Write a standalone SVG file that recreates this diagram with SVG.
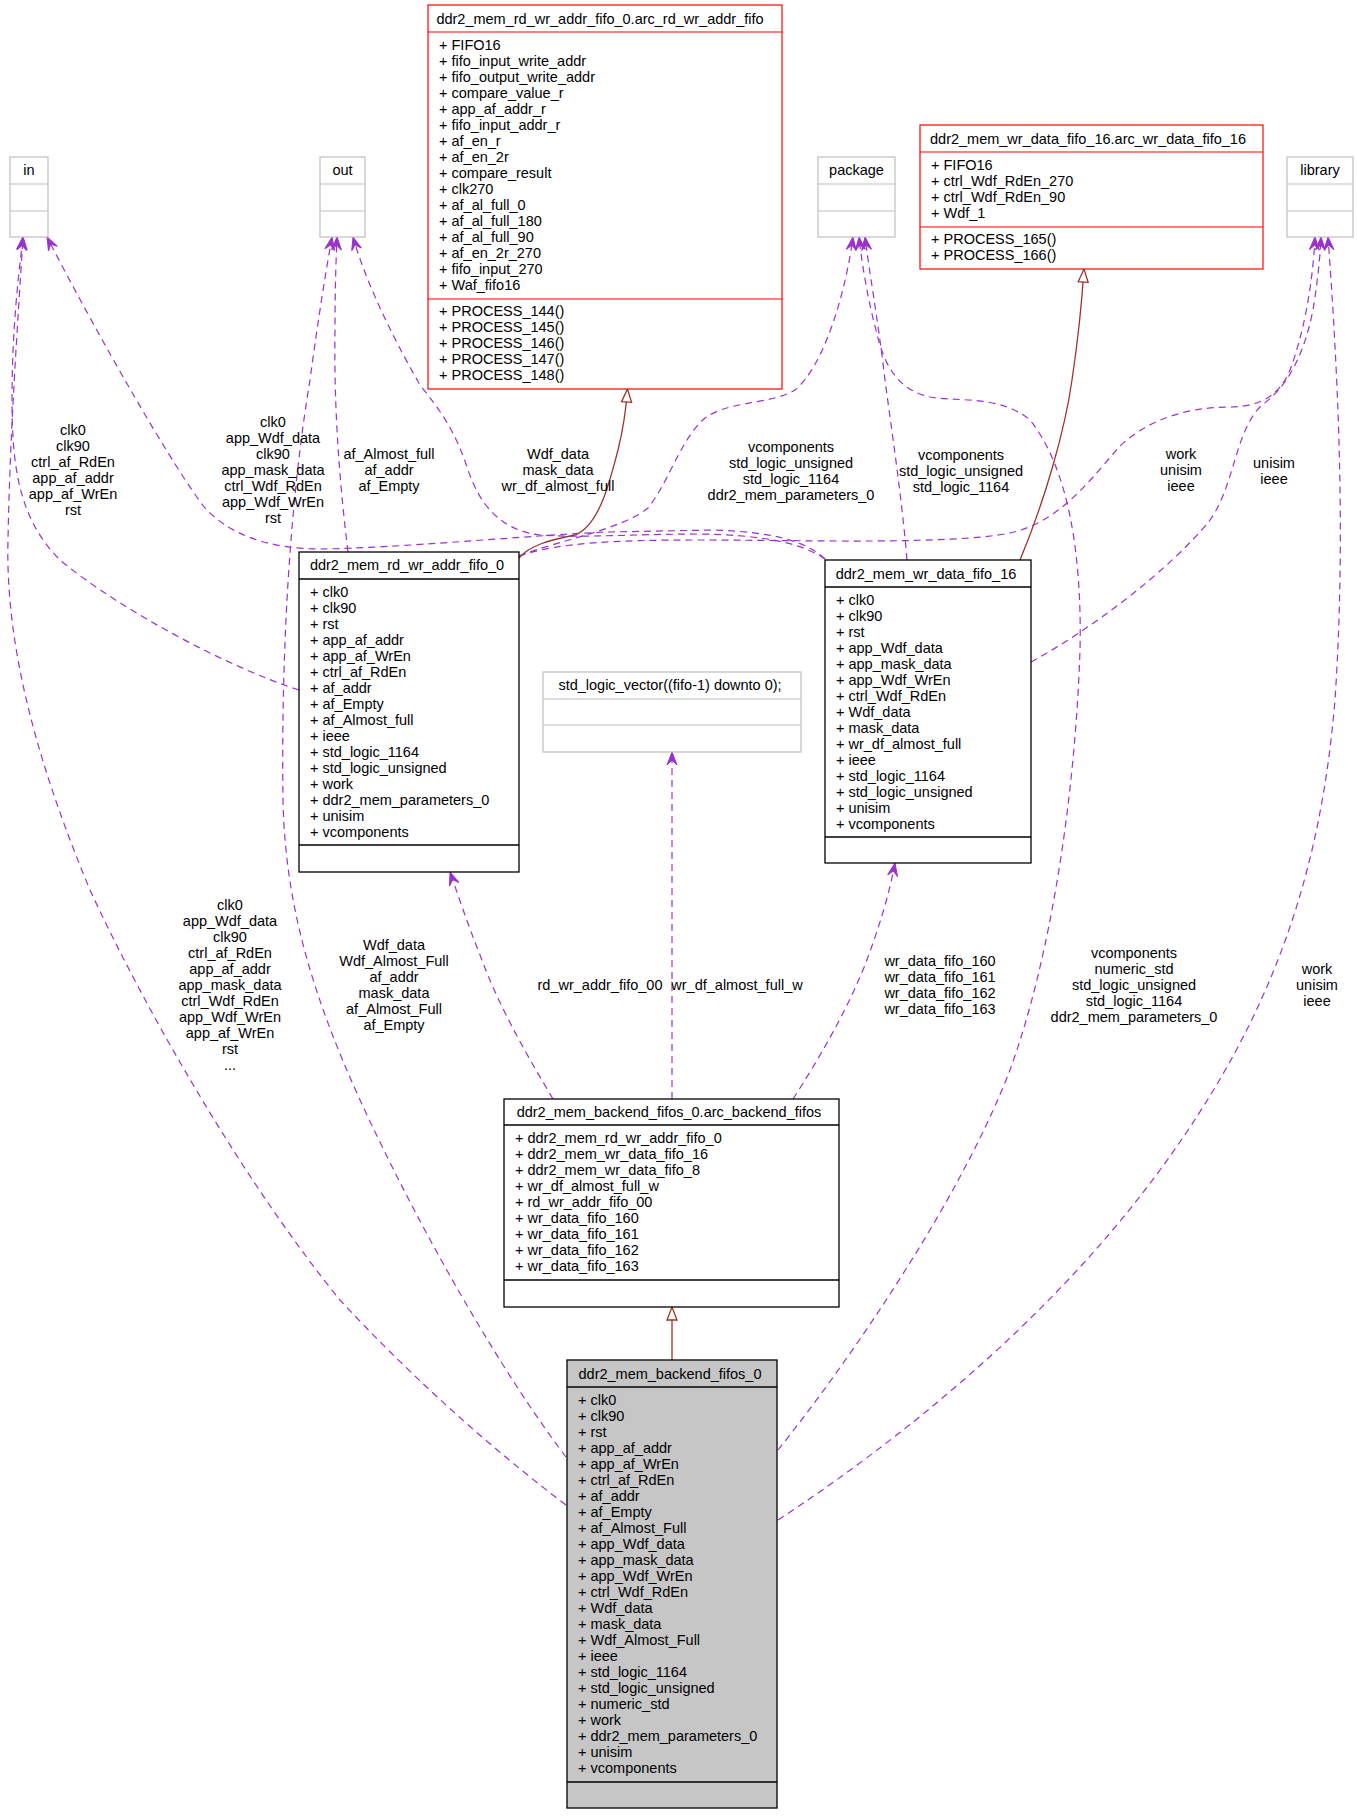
<svg xmlns="http://www.w3.org/2000/svg" width="1357" height="1816" viewBox="0 0 1357 1816">
<style>
text{font-family:"Liberation Sans",Arial,sans-serif;font-size:14.5px;fill:#000}
.t{text-anchor:middle}
.lbl{text-anchor:middle}
.ext{fill:#fff;stroke:#bfbfbf;stroke-width:1.2}
.extl{stroke:#bfbfbf;stroke-width:1.2}
.red{fill:#fff;stroke:#ff0000;stroke-width:1.2}
.redl{stroke:#ff0000;stroke-width:1.2}
.blk{fill:#fff;stroke:#000;stroke-width:1.3}
.cur{fill:#c6c6c6;stroke:#000;stroke-width:1.3}
.blkl{stroke:#000;stroke-width:1.3}
.use{fill:none;stroke:#9a32cd;stroke-width:1.2;stroke-dasharray:7,5;marker-end:url(#vee)}
.inh{fill:none;stroke:#a0322d;stroke-width:1.3;marker-end:url(#tri)}
</style>
<defs>
<marker id="vee" markerUnits="userSpaceOnUse" markerWidth="16" markerHeight="12" refX="13" refY="6" orient="auto" overflow="visible">
<path d="M0,1 L13,6 L0,11 L5,6 Z" fill="#9a32cd" stroke="#9a32cd" stroke-width="1" stroke-dasharray="none"/>
</marker>
<marker id="tri" markerUnits="userSpaceOnUse" markerWidth="16" markerHeight="12" refX="13" refY="5" orient="auto" overflow="visible">
<path d="M0,0 L13,5 L0,10 Z" fill="#fff" stroke="#a0322d" stroke-width="1.3"/>
</marker>
</defs>
<rect width="1357" height="1816" fill="#fff"/>

<g id="connectors">
<path class="use" d="M566,1505 C 480,1440 400,1365 340,1300 C 250,1190 150,1020 90,890 C 40,770 5,650 8,540 C 10,430 18,320 23,237"/>
<path class="use" d="M299,690 C 230,668 120,610 60,560 C 20,520 12,470 12,400 C 12,330 18,280 23,237"/>
<path class="use" d="M825,559 C 805,540 770,532 714,530 L 607,532 C 520,536 400,548 320,549 C 270,549 230,535 205,508 C 175,470 100,340 47,237"/>
<path class="use" d="M566,1457 C 500,1370 420,1230 360,1100 C 310,990 285,900 283,800 C 281,650 290,500 310,380 C 318,320 326,270 332,237"/>
<path class="use" d="M348,552 C 338,470 334,400 335,330 C 335,290 336,260 337,237"/>
<path class="use" d="M825,559 C 800,542 760,535 700,534 C 640,534 580,538 540,535 C 500,530 480,505 468,470 C 455,430 440,410 420,385 C 400,350 368,290 353,237"/>
<path class="use" d="M519,556 C 560,540 620,530 648,508 C 670,480 680,440 705,418 C 730,400 770,405 795,390 C 825,365 846,290 853,237"/>
<path class="use" d="M519,556 C 560,542 620,540 700,540 C 800,540 950,545 1010,533 C 1060,522 1090,480 1120,446 C 1150,418 1190,407 1230,407 C 1260,407 1280,395 1290,370 C 1305,330 1313,280 1315,237"/>
<path class="use" d="M778,1450 C 850,1360 960,1200 1010,1070 C 1050,960 1075,800 1080,650 C 1082,560 1070,470 1030,420 C 1000,395 960,402 930,397 C 900,390 885,370 876,330 C 868,300 862,265 859,237"/>
<path class="use" d="M907,560 C 902,500 893,440 885,380 C 878,320 869,270 865,237"/>
<path class="use" d="M1031,662 C 1090,630 1170,570 1210,520 C 1235,485 1235,430 1262,405 C 1290,385 1305,350 1313,310 C 1317,285 1320,260 1321,237"/>
<path class="use" d="M778,1520 C 900,1440 1050,1320 1160,1170 C 1270,1020 1320,880 1335,700 C 1345,550 1340,400 1328,237"/>
<path class="use" d="M553,1099 C 530,1060 500,1010 480,955 C 468,925 458,895 450,872"/>
<path class="use" d="M672,1099 L672,752"/>
<path class="use" d="M793,1099 C 815,1065 845,1015 865,965 C 880,925 889,895 895,863"/>
<path class="inh" d="M519,558 C 530,545 550,540 575,535 C 600,525 610,480 618,450 C 623,430 626,410 627.5,389"/>
<path class="inh" d="M1020,560 C 1045,500 1065,430 1072,380 C 1078,340 1082,300 1084,269"/>
<path class="inh" d="M672,1360 L672,1307"/>

<text class="lbl"><tspan x="73" y="435">clk0</tspan><tspan x="73" dy="16">clk90</tspan><tspan x="73" dy="16">ctrl_af_RdEn</tspan><tspan x="73" dy="16">app_af_addr</tspan><tspan x="73" dy="16">app_af_WrEn</tspan><tspan x="73" dy="16">rst</tspan></text>
<text class="lbl"><tspan x="273" y="427">clk0</tspan><tspan x="273" dy="16">app_Wdf_data</tspan><tspan x="273" dy="16">clk90</tspan><tspan x="273" dy="16">app_mask_data</tspan><tspan x="273" dy="16">ctrl_Wdf_RdEn</tspan><tspan x="273" dy="16">app_Wdf_WrEn</tspan><tspan x="273" dy="16">rst</tspan></text>
<text class="lbl"><tspan x="389" y="459">af_Almost_full</tspan><tspan x="389" dy="16">af_addr</tspan><tspan x="389" dy="16">af_Empty</tspan></text>
<text class="lbl"><tspan x="558" y="459">Wdf_data</tspan><tspan x="558" dy="16">mask_data</tspan><tspan x="558" dy="16">wr_df_almost_full</tspan></text>
<text class="lbl"><tspan x="791" y="451.5">vcomponents</tspan><tspan x="791" dy="16">std_logic_unsigned</tspan><tspan x="791" dy="16">std_logic_1164</tspan><tspan x="791" dy="16">ddr2_mem_parameters_0</tspan></text>
<text class="lbl"><tspan x="961" y="459.5">vcomponents</tspan><tspan x="961" dy="16">std_logic_unsigned</tspan><tspan x="961" dy="16">std_logic_1164</tspan></text>
<text class="lbl"><tspan x="1181" y="459">work</tspan><tspan x="1181" dy="16">unisim</tspan><tspan x="1181" dy="16">ieee</tspan></text>
<text class="lbl"><tspan x="1274" y="467.5">unisim</tspan><tspan x="1274" dy="16">ieee</tspan></text>
<text class="lbl"><tspan x="230" y="910">clk0</tspan><tspan x="230" dy="16">app_Wdf_data</tspan><tspan x="230" dy="16">clk90</tspan><tspan x="230" dy="16">ctrl_af_RdEn</tspan><tspan x="230" dy="16">app_af_addr</tspan><tspan x="230" dy="16">app_mask_data</tspan><tspan x="230" dy="16">ctrl_Wdf_RdEn</tspan><tspan x="230" dy="16">app_Wdf_WrEn</tspan><tspan x="230" dy="16">app_af_WrEn</tspan><tspan x="230" dy="16">rst</tspan><tspan x="230" dy="16">...</tspan></text>
<text class="lbl"><tspan x="394" y="950">Wdf_data</tspan><tspan x="394" dy="16">Wdf_Almost_Full</tspan><tspan x="394" dy="16">af_addr</tspan><tspan x="394" dy="16">mask_data</tspan><tspan x="394" dy="16">af_Almost_Full</tspan><tspan x="394" dy="16">af_Empty</tspan></text>
<text class="lbl" x="600" y="990">rd_wr_addr_fifo_00</text>
<text class="lbl" x="737" y="990">wr_df_almost_full_w</text>
<text class="lbl"><tspan x="940" y="966">wr_data_fifo_160</tspan><tspan x="940" dy="16">wr_data_fifo_161</tspan><tspan x="940" dy="16">wr_data_fifo_162</tspan><tspan x="940" dy="16">wr_data_fifo_163</tspan></text>
<text class="lbl"><tspan x="1134" y="958">vcomponents</tspan><tspan x="1134" dy="16">numeric_std</tspan><tspan x="1134" dy="16">std_logic_unsigned</tspan><tspan x="1134" dy="16">std_logic_1164</tspan><tspan x="1134" dy="16">ddr2_mem_parameters_0</tspan></text>
<text class="lbl"><tspan x="1317" y="974">work</tspan><tspan x="1317" dy="16">unisim</tspan><tspan x="1317" dy="16">ieee</tspan></text>
</g>

<g id="node_in">
<rect class="ext" x="10" y="157" width="38" height="80"/>
<line class="extl" x1="10" y1="184" x2="48" y2="184"/><line class="extl" x1="10" y1="211" x2="48" y2="211"/>
<text class="t" x="29" y="175">in</text>
</g>
<g id="node_out">
<rect class="ext" x="320" y="157" width="45" height="80"/>
<line class="extl" x1="320" y1="184" x2="365" y2="184"/><line class="extl" x1="320" y1="211" x2="365" y2="211"/>
<text class="t" x="342.5" y="175">out</text>
</g>
<g id="node_package">
<rect class="ext" x="818" y="157" width="77" height="80"/>
<line class="extl" x1="818" y1="184" x2="895" y2="184"/><line class="extl" x1="818" y1="211" x2="895" y2="211"/>
<text class="t" x="856.5" y="175">package</text>
</g>
<g id="node_library">
<rect class="ext" x="1287" y="157" width="66" height="80"/>
<line class="extl" x1="1287" y1="184" x2="1353" y2="184"/><line class="extl" x1="1287" y1="211" x2="1353" y2="211"/>
<text class="t" x="1320" y="175">library</text>
</g>

<g id="node_arc_rd_wr_addr_fifo">
<rect class="red" x="428" y="5" width="354" height="384"/>
<line class="redl" x1="428" y1="32" x2="782" y2="32"/><line class="redl" x1="428" y1="299" x2="782" y2="299"/>
<text class="t" x="600" y="23.5">ddr2_mem_rd_wr_addr_fifo_0.arc_rd_wr_addr_fifo</text>
<text><tspan x="439" y="49.5">+ FIFO16</tspan><tspan x="439" dy="16">+ fifo_input_write_addr</tspan><tspan x="439" dy="16">+ fifo_output_write_addr</tspan><tspan x="439" dy="16">+ compare_value_r</tspan><tspan x="439" dy="16">+ app_af_addr_r</tspan><tspan x="439" dy="16">+ fifo_input_addr_r</tspan><tspan x="439" dy="16">+ af_en_r</tspan><tspan x="439" dy="16">+ af_en_2r</tspan><tspan x="439" dy="16">+ compare_result</tspan><tspan x="439" dy="16">+ clk270</tspan><tspan x="439" dy="16">+ af_al_full_0</tspan><tspan x="439" dy="16">+ af_al_full_180</tspan><tspan x="439" dy="16">+ af_al_full_90</tspan><tspan x="439" dy="16">+ af_en_2r_270</tspan><tspan x="439" dy="16">+ fifo_input_270</tspan><tspan x="439" dy="16">+ Waf_fifo16</tspan></text>
<text><tspan x="439" y="316">+ PROCESS_144()</tspan><tspan x="439" dy="16">+ PROCESS_145()</tspan><tspan x="439" dy="16">+ PROCESS_146()</tspan><tspan x="439" dy="16">+ PROCESS_147()</tspan><tspan x="439" dy="16">+ PROCESS_148()</tspan></text>
</g>

<g id="node_arc_wr_data_fifo_16">
<rect class="red" x="920" y="125" width="343" height="144"/>
<line class="redl" x1="920" y1="152" x2="1263" y2="152"/><line class="redl" x1="920" y1="227" x2="1263" y2="227"/>
<text class="t" x="1088" y="143.5">ddr2_mem_wr_data_fifo_16.arc_wr_data_fifo_16</text>
<text><tspan x="931" y="169.5">+ FIFO16</tspan><tspan x="931" dy="16">+ ctrl_Wdf_RdEn_270</tspan><tspan x="931" dy="16">+ ctrl_Wdf_RdEn_90</tspan><tspan x="931" dy="16">+ Wdf_1</tspan></text>
<text><tspan x="931" y="244">+ PROCESS_165()</tspan><tspan x="931" dy="16">+ PROCESS_166()</tspan></text>
</g>

<g id="node_rd_wr_addr_fifo_0">
<rect class="blk" x="299" y="552" width="220" height="320"/>
<line class="blkl" x1="299" y1="579" x2="519" y2="579"/><line class="blkl" x1="299" y1="845" x2="519" y2="845"/>
<text class="t" x="407" y="570">ddr2_mem_rd_wr_addr_fifo_0</text>
<text><tspan x="310" y="596.5">+ clk0</tspan><tspan x="310" dy="16">+ clk90</tspan><tspan x="310" dy="16">+ rst</tspan><tspan x="310" dy="16">+ app_af_addr</tspan><tspan x="310" dy="16">+ app_af_WrEn</tspan><tspan x="310" dy="16">+ ctrl_af_RdEn</tspan><tspan x="310" dy="16">+ af_addr</tspan><tspan x="310" dy="16">+ af_Empty</tspan><tspan x="310" dy="16">+ af_Almost_full</tspan><tspan x="310" dy="16">+ ieee</tspan><tspan x="310" dy="16">+ std_logic_1164</tspan><tspan x="310" dy="16">+ std_logic_unsigned</tspan><tspan x="310" dy="16">+ work</tspan><tspan x="310" dy="16">+ ddr2_mem_parameters_0</tspan><tspan x="310" dy="16">+ unisim</tspan><tspan x="310" dy="16">+ vcomponents</tspan></text>
</g>

<g id="node_std_logic_vector">
<rect class="ext" x="543" y="672" width="258" height="80"/>
<line class="extl" x1="543" y1="699" x2="801" y2="699"/><line class="extl" x1="543" y1="725" x2="801" y2="725"/>
<text class="t" x="670" y="690">std_logic_vector((fifo-1) downto 0);</text>
</g>

<g id="node_wr_data_fifo_16">
<rect class="blk" x="825" y="560" width="206" height="303"/>
<line class="blkl" x1="825" y1="587" x2="1031" y2="587"/><line class="blkl" x1="825" y1="837" x2="1031" y2="837"/>
<text class="t" x="926" y="578.5">ddr2_mem_wr_data_fifo_16</text>
<text><tspan x="836" y="604.5">+ clk0</tspan><tspan x="836" dy="16">+ clk90</tspan><tspan x="836" dy="16">+ rst</tspan><tspan x="836" dy="16">+ app_Wdf_data</tspan><tspan x="836" dy="16">+ app_mask_data</tspan><tspan x="836" dy="16">+ app_Wdf_WrEn</tspan><tspan x="836" dy="16">+ ctrl_Wdf_RdEn</tspan><tspan x="836" dy="16">+ Wdf_data</tspan><tspan x="836" dy="16">+ mask_data</tspan><tspan x="836" dy="16">+ wr_df_almost_full</tspan><tspan x="836" dy="16">+ ieee</tspan><tspan x="836" dy="16">+ std_logic_1164</tspan><tspan x="836" dy="16">+ std_logic_unsigned</tspan><tspan x="836" dy="16">+ unisim</tspan><tspan x="836" dy="16">+ vcomponents</tspan></text>
</g>

<g id="node_arc_backend_fifos">
<rect class="blk" x="504" y="1099" width="335" height="208"/>
<line class="blkl" x1="504" y1="1125" x2="839" y2="1125"/><line class="blkl" x1="504" y1="1280" x2="839" y2="1280"/>
<text class="t" x="669" y="1117">ddr2_mem_backend_fifos_0.arc_backend_fifos</text>
<text><tspan x="515" y="1143">+ ddr2_mem_rd_wr_addr_fifo_0</tspan><tspan x="515" dy="16">+ ddr2_mem_wr_data_fifo_16</tspan><tspan x="515" dy="16">+ ddr2_mem_wr_data_fifo_8</tspan><tspan x="515" dy="16">+ wr_df_almost_full_w</tspan><tspan x="515" dy="16">+ rd_wr_addr_fifo_00</tspan><tspan x="515" dy="16">+ wr_data_fifo_160</tspan><tspan x="515" dy="16">+ wr_data_fifo_161</tspan><tspan x="515" dy="16">+ wr_data_fifo_162</tspan><tspan x="515" dy="16">+ wr_data_fifo_163</tspan></text>
</g>

<g id="node_backend_fifos_0">
<rect class="cur" x="567" y="1360" width="210" height="448"/>
<line class="blkl" x1="567" y1="1387" x2="777" y2="1387"/><line class="blkl" x1="567" y1="1782" x2="777" y2="1782"/>
<text class="t" x="670" y="1378.5">ddr2_mem_backend_fifos_0</text>
<text><tspan x="578" y="1404.5">+ clk0</tspan><tspan x="578" dy="16">+ clk90</tspan><tspan x="578" dy="16">+ rst</tspan><tspan x="578" dy="16">+ app_af_addr</tspan><tspan x="578" dy="16">+ app_af_WrEn</tspan><tspan x="578" dy="16">+ ctrl_af_RdEn</tspan><tspan x="578" dy="16">+ af_addr</tspan><tspan x="578" dy="16">+ af_Empty</tspan><tspan x="578" dy="16">+ af_Almost_Full</tspan><tspan x="578" dy="16">+ app_Wdf_data</tspan><tspan x="578" dy="16">+ app_mask_data</tspan><tspan x="578" dy="16">+ app_Wdf_WrEn</tspan><tspan x="578" dy="16">+ ctrl_Wdf_RdEn</tspan><tspan x="578" dy="16">+ Wdf_data</tspan><tspan x="578" dy="16">+ mask_data</tspan><tspan x="578" dy="16">+ Wdf_Almost_Full</tspan><tspan x="578" dy="16">+ ieee</tspan><tspan x="578" dy="16">+ std_logic_1164</tspan><tspan x="578" dy="16">+ std_logic_unsigned</tspan><tspan x="578" dy="16">+ numeric_std</tspan><tspan x="578" dy="16">+ work</tspan><tspan x="578" dy="16">+ ddr2_mem_parameters_0</tspan><tspan x="578" dy="16">+ unisim</tspan><tspan x="578" dy="16">+ vcomponents</tspan></text>
</g>
</svg>
